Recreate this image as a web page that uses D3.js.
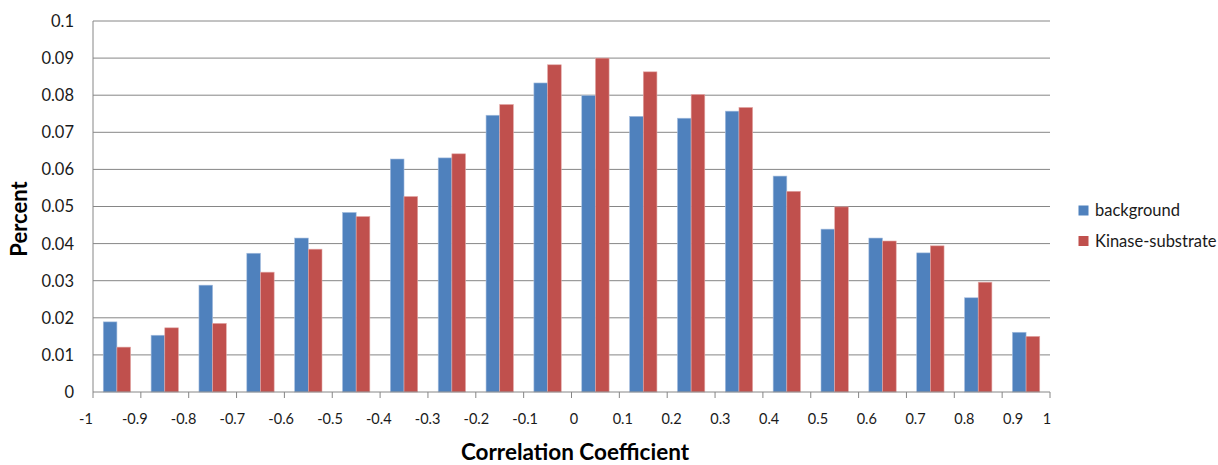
<!DOCTYPE html>
<html>
<head>
<meta charset="utf-8">
<script src="https://cdn.jsdelivr.net/npm/d3@7"></script>
<style>
  html, body { margin: 0; padding: 0; background: #fff; }
  svg { display: block; font-family: Lato, "Open Sans", sans-serif; }
</style>
</head>
<body>
<svg id="chart" width="1218" height="465"></svg>
<script>
// Correlation coefficient bins (left edge of each bin)
const binStarts = [-1, -0.9, -0.8, -0.7, -0.6, -0.5, -0.4, -0.3, -0.2, -0.1,
                   0, 0.1, 0.2, 0.3, 0.4, 0.5, 0.6, 0.7, 0.8, 0.9];
const binWidth = 0.1;

// Share of pairs falling in each bin
const background = [0.0189, 0.0153, 0.0288, 0.0374, 0.0415, 0.0484, 0.0628, 0.0631, 0.0746, 0.0833,
                    0.0799, 0.0743, 0.0738, 0.0757, 0.0582, 0.0439, 0.0415, 0.0375, 0.0254, 0.0161];
const kinaseSubstrate = [0.0121, 0.0173, 0.0185, 0.0323, 0.0385, 0.0473, 0.0527, 0.0642, 0.0775, 0.0882,
                         0.0900, 0.0863, 0.0802, 0.0767, 0.0541, 0.0499, 0.0407, 0.0394, 0.0296, 0.0150];

const seriesNames = ["background", "Kinase-substrate"];
const seriesColors = ["#4F81BD", "#C0504D"];
const seriesEdges = ["#a7bfdf", "#e3a9a7"];

const xTickValues = [-1, -0.9, -0.8, -0.7, -0.6, -0.5, -0.4, -0.3, -0.2, -0.1,
                     0, 0.1, 0.2, 0.3, 0.4, 0.5, 0.6, 0.7, 0.8, 0.9, 1];
const xTickLabels = ["-1", "-0.9", "-0.8", "-0.7", "-0.6", "-0.5", "-0.4", "-0.3", "-0.2", "-0.1",
                     "0", "0.1", "0.2", "0.3", "0.4", "0.5", "0.6", "0.7", "0.8", "0.9", "1"];
const yTickValues = [0, 0.01, 0.02, 0.03, 0.04, 0.05, 0.06, 0.07, 0.08, 0.09, 0.1];
const yTickLabels = ["0", "0.01", "0.02", "0.03", "0.04", "0.05", "0.06", "0.07", "0.08", "0.09", "0.1"];

const plot = { left: 93, right: 1050, top: 21, bottom: 392 };
const svg = d3.select("#chart");

const x = d3.scaleLinear().domain([-1, 1]).range([plot.left, plot.right]);
const y = d3.scaleLinear().domain([0, 0.1]).range([plot.bottom, plot.top]);

const gridColor = "#868686";

// Horizontal gridlines
svg.append("g")
  .selectAll("line")
  .data(yTickValues.filter(v => v > 0))
  .join("line")
  .attr("x1", plot.left).attr("x2", plot.right)
  .attr("y1", d => y(d)).attr("y2", d => y(d))
  .attr("stroke", gridColor).attr("stroke-width", 1);

// Bars: two per bin, Excel-style gap of 150% of a bar width
const pxBin = x(-1 + binWidth) - x(-1);
const barW = pxBin / 3.5;
const gapHalf = barW * 0.75;
const series = [background, kinaseSubstrate];

series.forEach((vals, s) => {
  svg.append("g")
    .selectAll("rect")
    .data(vals.map((v, i) => ({ v, start: binStarts[i] })))
    .join("rect")
    .attr("x", d => x(d.start) + gapHalf + s * barW)
    .attr("y", d => y(d.v))
    .attr("width", barW)
    .attr("height", d => y(0) - y(d.v))
    .attr("fill", seriesColors[s])
    .attr("stroke", seriesEdges[s])
    .attr("stroke-width", 0.6);
});

// Y axis line and labels
svg.append("line")
  .attr("x1", plot.left).attr("x2", plot.left)
  .attr("y1", plot.top).attr("y2", plot.bottom)
  .attr("stroke", gridColor).attr("stroke-width", 1);

svg.append("g")
  .selectAll("text")
  .data(yTickValues)
  .join("text")
  .attr("x", plot.left - 19)
  .attr("y", d => y(d))
  .attr("dy", "0.36em")
  .attr("text-anchor", "end")
  .attr("font-size", 16.5)
  .attr("fill", "#1a1a1a")
  .text((d, i) => yTickLabels[i]);

// X axis line, ticks at bin edges
svg.append("line")
  .attr("x1", plot.left).attr("x2", plot.right)
  .attr("y1", plot.bottom).attr("y2", plot.bottom)
  .attr("stroke", gridColor).attr("stroke-width", 1);

svg.append("g")
  .selectAll("line")
  .data(xTickValues)
  .join("line")
  .attr("x1", d => x(d)).attr("x2", d => x(d))
  .attr("y1", plot.bottom).attr("y2", plot.bottom + 6)
  .attr("stroke", gridColor).attr("stroke-width", 1);

// Tick labels run at a slightly wider pitch than the ticks; the last one is pulled inside
const labelX = d3.scaleLinear().domain([-1, 0.9]).range([x(-1) - 7, x(0.9) + 11]);
svg.append("g")
  .selectAll("text")
  .data(xTickValues)
  .join("text")
  .attr("x", d => d < 1 ? labelX(d) : x(d) - 3)
  .attr("y", 419)
  .attr("dy", "0.36em")
  .attr("text-anchor", "middle")
  .attr("font-size", 14.5)
  .attr("fill", "#1a1a1a")
  .text((d, i) => xTickLabels[i]);

// Axis titles
svg.append("text")
  .attr("x", 575).attr("y", 459.5)
  .attr("text-anchor", "middle")
  .attr("font-size", 22.5).attr("font-weight", "bold")
  .attr("fill", "#000")
  .text("Correlation Coefficient");

svg.append("text")
  .attr("transform", "translate(26.5,219) rotate(-90)")
  .attr("text-anchor", "middle")
  .attr("font-size", 22).attr("font-weight", "bold")
  .attr("fill", "#000")
  .text("Percent");

// Legend
const legend = svg.append("g");
seriesNames.forEach((name, i) => {
  const cy = 210.5 + i * 30.5;
  legend.append("rect")
    .attr("x", 1078.5).attr("y", cy - 5)
    .attr("width", 10).attr("height", 10)
    .attr("fill", seriesColors[i]);
  legend.append("text")
    .attr("x", 1095).attr("y", cy)
    .attr("dy", "0.36em")
    .attr("font-size", 16.5)
    .attr("fill", "#1a1a1a")
    .text(name);
});
</script>
</body>
</html>
